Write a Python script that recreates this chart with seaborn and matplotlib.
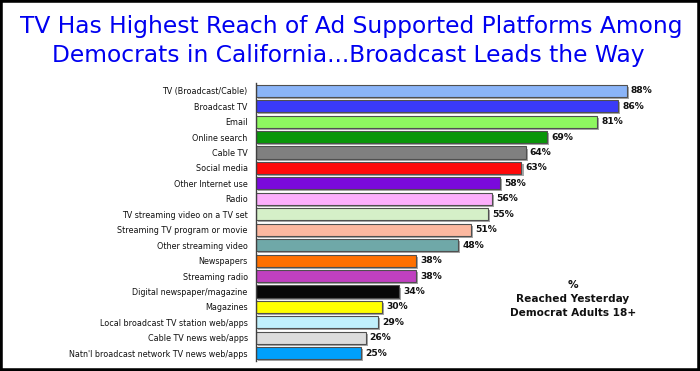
import matplotlib
matplotlib.use("Agg")
import matplotlib.pyplot as plt
import matplotlib.patheffects as pe
from matplotlib.patches import Rectangle
import seaborn as sns
import pandas as pd

categories = [
    "TV (Broadcast/Cable)", "Broadcast TV", "Email", "Online search", "Cable TV",
    "Social media", "Other Internet use", "Radio", "TV streaming video on a TV set",
    "Streaming TV program or movie", "Other streaming video", "Newspapers",
    "Streaming radio", "Digital newspaper/magazine", "Magazines",
    "Local broadcast TV station web/apps", "Cable TV news web/apps",
    "Natn'l broadcast network TV news web/apps",
]
values = [88, 86, 81, 69, 64, 63, 58, 56, 55, 51, 48, 38, 38, 34, 30, 29, 26, 25]
colors = [
    "#8AB4F8", "#3A3AF8", "#8EF860", "#0A960A", "#808080", "#FF0A0A", "#7A0ADC",
    "#FCAEFC", "#D5F0C8", "#FCB8A0", "#6FA8A8", "#FF7000", "#C040C0", "#080808",
    "#FFFF00", "#C0F0FC", "#DCDCDC", "#00A0FC",
]
title_lines = [
    "TV Has Highest Reach of Ad Supported Platforms Among",
    "Democrats in California...Broadcast Leads the Way",
]
note_lines = ["%", "Reached Yesterday", "Democrat Adults 18+"]

sns.set_style("white")
plt.rcParams["font.family"] = ["DejaVu Sans"]

df = pd.DataFrame({"cat": categories, "val": values})

fig = plt.figure(figsize=(7.0, 3.71), dpi=100)
ax = fig.add_axes([256 / 700, 10 / 371, 434 / 700, 278 / 371])

sns.barplot(data=df, x="val", y="cat", hue="cat", palette=colors, legend=False,
            orient="h", width=0.78, saturation=1, edgecolor="#505050", linewidth=0.8, ax=ax)

for p in ax.patches:
    p.set_path_effects([pe.SimplePatchShadow(offset=(1.5, -1.5), shadow_rgbFace="#909090", alpha=0.8),
                        pe.Normal()])

for c in ax.containers:
    ax.bar_label(c, fmt="{:.0f}%", padding=3, fontsize=6.6, fontweight="bold", color="#111111")

ax.set_xlim(0, 103)
ax.set_ylim(len(categories) - 0.5, -0.5)
ax.set_xlabel("")
ax.set_ylabel("")
ax.set_xticks([])
ax.tick_params(axis="y", length=0, pad=6, labelsize=5.8, labelcolor="#111111")
for s in ["top", "right", "bottom"]:
    ax.spines[s].set_visible(False)
ax.spines["left"].set_color("#404040")
ax.spines["left"].set_linewidth(1)

fig.text(0.502, 1 - 33 / 371, title_lines[0], ha="center", va="baseline", fontsize=16.8, color="#0000F0")
fig.text(0.498, 1 - 62 / 371, title_lines[1], ha="center", va="baseline", fontsize=16.8, color="#0000F0")

for i, t in enumerate(note_lines):
    fig.text(573 / 700, 1 - (288 + 14 * i) / 371, t, ha="center", va="baseline",
             fontsize=7.6, fontweight="bold", color="#111111")

fig.add_artist(Rectangle((0, 0), 1, 1, transform=fig.transFigure, fill=False,
                         linewidth=4, edgecolor="black"))

fig.savefig("out.png", dpi=100)
